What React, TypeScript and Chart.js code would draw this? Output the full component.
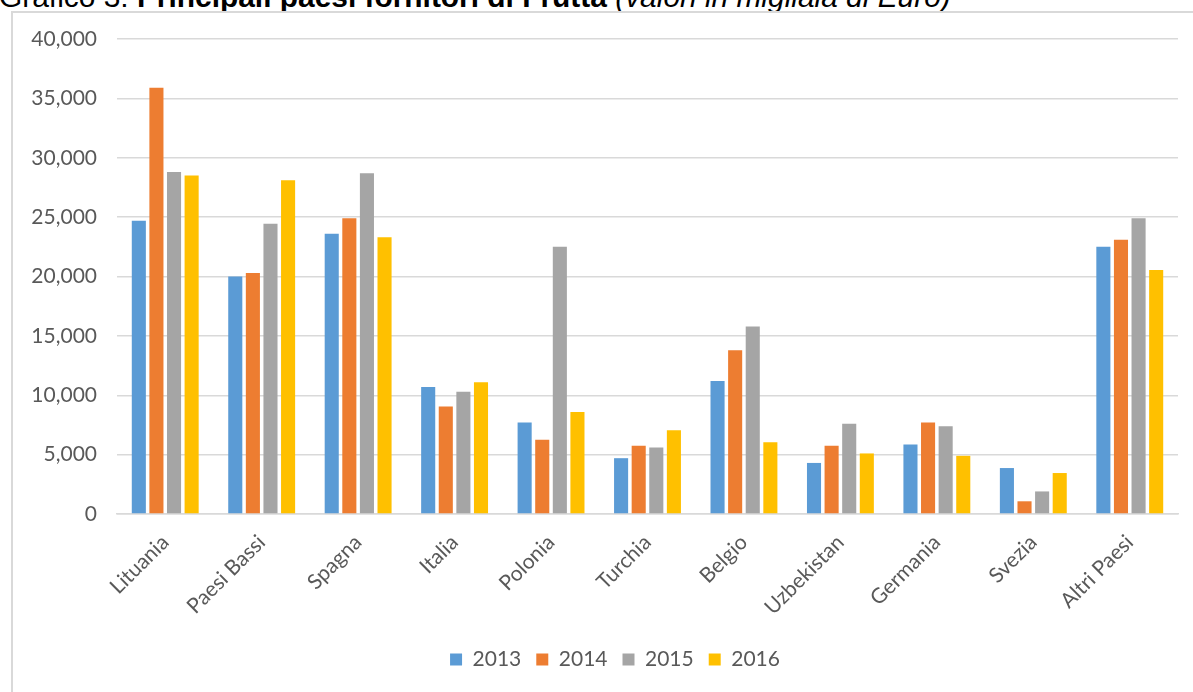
import React, { useEffect, useRef } from "react";
import { Chart, registerables } from "chart.js";

Chart.register(...registerables);

const categories = [
  "Lituania",
  "Paesi Bassi",
  "Spagna",
  "Italia",
  "Polonia",
  "Turchia",
  "Belgio",
  "Uzbekistan",
  "Germania",
  "Svezia",
  "Altri Paesi",
];

const seriesNames = ["2013", "2014", "2015", "2016"];

const values2013 = [24700, 20000, 23600, 10700, 7700, 4700, 11200, 4300, 5850, 3870, 22500];
const values2014 = [35900, 20300, 24900, 9050, 6250, 5750, 13800, 5750, 7700, 1070, 23100];
const values2015 = [28800, 24450, 28700, 10300, 22500, 5600, 15800, 7600, 7400, 1900, 24900];
const values2016 = [28500, 28100, 23300, 11100, 8600, 7050, 6050, 5100, 4900, 3450, 20550];

const seriesColors = ["#5B9BD5", "#ED7D31", "#A5A5A5", "#FFC000"];

const TITLE_FONT = "'Liberation Sans', Arial, sans-serif";
const FONT = "Lato, 'Noto Sans', sans-serif";

// The original chart is wider than the cropped picture; its legend is centred on the full frame.
const legendShift = {
  id: "legendShift",
  afterLayout(chart: any) {
    if (chart.legend) {
      chart.legend.left += 20;
      chart.legend.right += 20;
    }
  },
};

export default function App() {
  const canvasRef = useRef<HTMLCanvasElement | null>(null);

  useEffect(() => {
    document.body.style.margin = "0";
    document.body.style.overflow = "hidden";
    const canvas = canvasRef.current;
    if (!canvas) return;
    const allValues = [values2013, values2014, values2015, values2016];
    const chart = new Chart(canvas, {
      type: "bar",
      data: {
        labels: categories,
        datasets: seriesNames.map((name, i) => ({
          label: name,
          data: allValues[i],
          backgroundColor: seriesColors[i],
          borderWidth: 0,
          categoryPercentage: 0.73,
          barPercentage: 0.8,
        })),
      },
      plugins: [legendShift],
      options: {
        animation: false,
        responsive: false,
        maintainAspectRatio: false,
        layout: { padding: { top: 27, right: 15, bottom: 12, left: 0 } },
        plugins: {
          title: { display: false },
          tooltip: { enabled: false },
          legend: {
            display: true,
            position: "bottom",
            labels: {
              color: "#595959",
              font: { family: FONT, size: 21 },
              boxWidth: 12,
              boxHeight: 12,
              padding: 15,
            },
          },
        },
        scales: {
          x: {
            grid: { display: false, drawTicks: false },
            border: { display: true, color: "#d9d9d9", width: 1.5 },
            ticks: {
              color: "#595959",
              font: { family: FONT, size: 21 },
              minRotation: 45,
              maxRotation: 45,
              autoSkip: false,
              padding: 16,
            },
            afterFit: (scale: any) => {
              scale.height = 120;
            },
          },
          y: {
            min: 0,
            max: 40000,
            grid: { color: "#d9d9d9", lineWidth: 1.5, drawTicks: false },
            border: { display: false },
            ticks: {
              stepSize: 5000,
              color: "#595959",
              font: { family: FONT, size: 21 },
              padding: 20,
              callback: (v: any) => Number(v).toLocaleString("en-US"),
            },
            afterFit: (scale: any) => {
              scale.width = 105;
              scale.paddingTop = 0;
              scale.paddingBottom = 0;
            },
          },
        },
      },
    });
    return () => chart.destroy();
  }, []);

  return (
    <div style={{ position: "relative", width: 1193, height: 692, overflow: "hidden", background: "#fff" }}>
      <div
        style={{
          position: "absolute",
          left: -1,
          top: -18,
          whiteSpace: "nowrap",
          fontFamily: TITLE_FONT,
          fontSize: 29.9,
          lineHeight: "30px",
          color: "#000",
        }}
      >
        Grafico 3: <b>Principali paesi fornitori di Frutta</b> <i>(valori in migliaia di Euro)</i>
      </div>
      <div
        style={{
          position: "absolute",
          left: 11,
          top: 11,
          width: 1220,
          height: 720,
          border: "2px solid #d9d9d9",
          boxSizing: "border-box",
        }}
      />
      <canvas
        ref={canvasRef}
        width={1181}
        height={680}
        style={{ position: "absolute", left: 12, top: 12, width: 1181, height: 680 }}
      />
    </div>
  );
}
